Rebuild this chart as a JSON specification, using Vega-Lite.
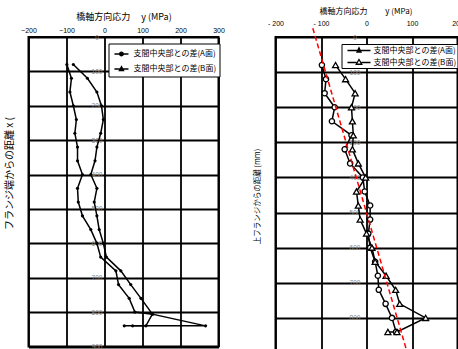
{
  "$schema": "https://vega.github.io/schema/vega-lite/v6.json",
  "background": "white",
  "padding": {"left": 3.5, "top": 6, "right": 0, "bottom": 0},
  "spacing": 57,
  "bounds": "flush",
  "resolve": {"scale": {"shape": "independent", "fill": "independent", "stroke": "independent"}, "legend": {"shape": "independent", "fill": "independent", "stroke": "independent"}},
  "config": {
    "font": "Liberation Sans",
    "view": {"stroke": "black", "strokeWidth": 2},
    "axis": {
      "domain": false, "ticks": false, "grid": true, "gridColor": "black", "gridOpacity": 1, "gridWidth": 1.8,
      "labelFont": "Liberation Sans", "labelColor": "black", "labelFlush": false, "labelOverlap": false,
      "titleFont": "Noto Sans CJK JP", "titleColor": "black", "titleFontWeight": "normal"
    },
    "legend": {"labelFont": "Noto Sans CJK JP", "labelColor": "black"}
  },
  "datasets": {
    "left": [
      {"s":"A","i":1,"d":80,"v":-99},{"s":"A","i":2,"d":120,"v":-87},{"s":"A","i":3,"d":160,"v":-91},{"s":"A","i":4,"d":200,"v":-82},
      {"s":"A","i":5,"d":240,"v":-74},{"s":"A","i":6,"d":280,"v":-78},{"s":"A","i":7,"d":320,"v":-71},{"s":"A","i":8,"d":360,"v":-71},
      {"s":"A","i":9,"d":400,"v":-58},{"s":"A","i":10,"d":440,"v":-71},{"s":"A","i":11,"d":480,"v":-69},{"s":"A","i":12,"d":520,"v":-58},
      {"s":"A","i":13,"d":560,"v":-36},{"s":"A","i":14,"d":600,"v":-20},{"s":"A","i":15,"d":640,"v":-10},{"s":"A","i":16,"d":680,"v":30},
      {"s":"A","i":17,"d":720,"v":37},{"s":"A","i":18,"d":760,"v":65},{"s":"A","i":19,"d":800,"v":80},{"s":"A","i":20,"d":806,"v":126},
      {"s":"A","i":21,"d":840,"v":109},{"s":"A","i":22,"d":840,"v":74},
      {"s":"B","i":1,"d":80,"v":-82},{"s":"B","i":2,"d":120,"v":-45},{"s":"B","i":3,"d":160,"v":-20},{"s":"B","i":4,"d":200,"v":-8},
      {"s":"B","i":5,"d":240,"v":-3},{"s":"B","i":6,"d":280,"v":-10},{"s":"B","i":7,"d":320,"v":-20},{"s":"B","i":8,"d":360,"v":-25},
      {"s":"B","i":9,"d":400,"v":-36},{"s":"B","i":10,"d":440,"v":-20},{"s":"B","i":11,"d":480,"v":-27},{"s":"B","i":12,"d":520,"v":-20},
      {"s":"B","i":13,"d":560,"v":-14},{"s":"B","i":14,"d":600,"v":-3},{"s":"B","i":15,"d":640,"v":5},{"s":"B","i":16,"d":680,"v":43},
      {"s":"B","i":17,"d":720,"v":69},{"s":"B","i":18,"d":760,"v":96},{"s":"B","i":19,"d":806,"v":126},{"s":"B","i":20,"d":840,"v":266},
      {"s":"B","i":21,"d":840,"v":52}
    ],
    "right": [
      {"s":"A","i":1,"d":80,"v":-98},{"s":"A","i":2,"d":120,"v":-89},{"s":"A","i":3,"d":160,"v":-92},{"s":"A","i":4,"d":200,"v":-70},
      {"s":"A","i":5,"d":240,"v":-76},{"s":"A","i":6,"d":280,"v":-33},{"s":"A","i":7,"d":320,"v":-48},{"s":"A","i":8,"d":360,"v":-36},
      {"s":"A","i":9,"d":400,"v":-8},{"s":"A","i":10,"d":440,"v":-4},{"s":"A","i":11,"d":480,"v":8},{"s":"A","i":12,"d":520,"v":8},
      {"s":"A","i":13,"d":560,"v":4},{"s":"A","i":14,"d":600,"v":8},{"s":"A","i":15,"d":640,"v":19},{"s":"A","i":16,"d":680,"v":25},
      {"s":"A","i":17,"d":720,"v":27},{"s":"A","i":18,"d":760,"v":42},{"s":"A","i":19,"d":800,"v":56},{"s":"A","i":20,"d":840,"v":65},
      {"s":"B","i":1,"d":80,"v":-68},{"s":"B","i":2,"d":120,"v":-46},{"s":"B","i":3,"d":160,"v":-25},{"s":"B","i":4,"d":200,"v":-33},
      {"s":"B","i":5,"d":240,"v":-31},{"s":"B","i":6,"d":280,"v":-29},{"s":"B","i":7,"d":320,"v":-31},{"s":"B","i":8,"d":360,"v":-18},
      {"s":"B","i":9,"d":400,"v":-2},{"s":"B","i":10,"d":440,"v":-22},{"s":"B","i":11,"d":480,"v":-18},{"s":"B","i":12,"d":520,"v":-14},
      {"s":"B","i":13,"d":560,"v":0},{"s":"B","i":14,"d":600,"v":12},{"s":"B","i":15,"d":640,"v":19},{"s":"B","i":16,"d":680,"v":43},
      {"s":"B","i":17,"d":720,"v":64},{"s":"B","i":18,"d":760,"v":73},{"s":"B","i":19,"d":800,"v":130},{"s":"B","i":20,"d":840,"v":67},
      {"s":"B","i":21,"d":840,"v":47}
    ],
    "red": [{"d":-25,"v":-118},{"d":910,"v":92}],
    "keys": [{"s":"A","v":0,"d":0},{"s":"B","v":0,"d":0}]
  },
  "hconcat": [
    {
      "width": 190,
      "height": 309.5,
      "encoding": {
        "x": {"field": "v", "type": "quantitative", "scale": {"domain": [-200, 300], "nice": false, "zero": false},
          "axis": {"orient": "top", "values": [-200,-100,0,100,200,300], "labelFontSize": 7, "labelPadding": 3.5,
            "title": "橋軸方向応力　 y (MPa)", "titleFontSize": 9, "titleX": 95, "titleY": -20.5, "titleBaseline": "middle", "titleAlign": "center"}},
        "y": {"field": "d", "type": "quantitative", "scale": {"domain": [0, 900], "reverse": true, "nice": false, "zero": false},
          "axis": {"values": [0,100,200,300,400,500,600,700,800,900], "labelFontSize": 6.5, "labelColor": "#8a8a8a", "labelPadding": -68, "labelAlign": "center", "labelBaseline": "middle",
            "title": "フランジ端からの距離 x (", "titleFontSize": 10, "titleX": -19, "titleY": 136, "titleAngle": -90, "titleBaseline": "middle", "titleAlign": "center"}}
      },
      "layer": [
        {
          "data": {"name": "left"},
          "mark": {"type": "line", "color": "black", "strokeWidth": 1.5},
          "encoding": {"detail": {"field": "s"}, "order": {"field": "i"}}
        },
        {
          "data": {"name": "left"},
          "mark": {"type": "point", "filled": true, "color": "black", "size": 10, "opacity": 1}
        },
        {
          "data": {"name": "keys"},
          "mark": {"type": "point", "filled": true, "strokeWidth": 1.3, "size": 0},
          "encoding": {
            "shape": {"field": "s", "type": "nominal",
              "scale": {"range": ["M-0.7,0H1.46M0.1,0A0.28,0.28,0,1,1,0.66,0A0.28,0.28,0,1,1,0.1,0Z", "M-0.7,0H1.46M0.38,-0.36L0.7,0.24H0.06Z"]},
              "legend": {"orient": "none", "legendX": 80, "legendY": 6.5, "title": null, "strokeColor": "black", "fillColor": "white",
                "padding": 3, "labelFontSize": 8, "symbolSize": 169, "rowPadding": 3, "labelOffset": 7, "symbolOpacity": 1,
                "symbolStrokeWidth": 1.3,
                "labelExpr": "datum.value === 'A' ? '支間中央部との差(A面)' : '支間中央部との差(B面)'"}},
            "fill": {"field": "s", "type": "nominal", "scale": {"range": ["black", "black"]}},
            "stroke": {"field": "s", "type": "nominal", "scale": {"range": ["black", "black"]}}
          }
        }
      ]
    },
    {
      "width": 182,
      "height": 316,
      "encoding": {
        "x": {"field": "v", "type": "quantitative", "scale": {"domain": [-200, 200], "nice": false, "zero": false},
          "axis": {"orient": "top", "values": [-200,-100,0,100,200], "labelFontSize": 7, "labelPadding": 10.5,
            "labelExpr": "datum.value < 0 ? '- ' + abs(datum.value) : datum.label",
            "title": "橋軸方向応力　　 y (MPa)", "titleFontSize": 8, "titleX": 90, "titleY": -26, "titleBaseline": "middle", "titleAlign": "center"}},
        "y": {"field": "d", "type": "quantitative", "scale": {"domain": [0, 900], "reverse": true, "nice": false, "zero": false},
          "axis": {"values": [0,100,200,300,400,500,600,700,800,900], "labelFontSize": 6.5, "labelColor": "#8a8a8a", "labelPadding": -79, "labelAlign": "center", "labelBaseline": "middle",
            "title": "上フランジからの距離 (mm)", "titleFontSize": 7.5, "titleX": -18, "titleY": 159, "titleAngle": -90, "titleBaseline": "middle", "titleAlign": "center"}}
      },
      "layer": [
        {
          "data": {"name": "right"},
          "mark": {"type": "line", "color": "black", "strokeWidth": 1.5},
          "encoding": {"detail": {"field": "s"}, "order": {"field": "i"}}
        },
        {
          "data": {"name": "right"},
          "transform": [{"filter": "datum.s === 'A'"}],
          "mark": {"type": "point", "shape": "circle", "filled": true, "fill": "white", "stroke": "black", "strokeWidth": 1.3, "size": 28, "opacity": 1}
        },
        {
          "data": {"name": "right"},
          "transform": [{"filter": "datum.s === 'B'"}],
          "mark": {"type": "point", "shape": "triangle-up", "filled": true, "fill": "white", "stroke": "black", "strokeWidth": 1.3, "size": 36, "opacity": 1}
        },
        {
          "data": {"name": "red"},
          "mark": {"type": "line", "color": "red", "strokeWidth": 1.5, "strokeDash": [5, 3]}
        },
        {
          "data": {"name": "keys"},
          "mark": {"type": "point", "filled": true, "strokeWidth": 1.3, "size": 0},
          "encoding": {
            "shape": {"field": "s", "type": "nominal",
              "scale": {"range": ["M-0.1,0H4.5M2.2,-0.55L2.6,0.3H1.8Z", "M-0.1,0H1.7M2.7,0H4.5M2.2,-0.6L2.75,0.35H1.65Z"]},
              "legend": {"orient": "none", "legendX": 66, "legendY": 7, "title": null, "strokeColor": "black", "fillColor": "white",
                "padding": 0.5, "labelFontSize": 8, "symbolSize": 100, "rowPadding": 1, "labelOffset": 19.5, "symbolOpacity": 1,
                "symbolStrokeWidth": 1.3,
                "labelExpr": "datum.value === 'A' ? '支間中央部との差(A面)' : '支間中央部との差(B面)'"}},
            "fill": {"field": "s", "type": "nominal", "scale": {"range": ["black", "white"]}},
            "stroke": {"field": "s", "type": "nominal", "scale": {"range": ["black", "black"]}}
          }
        }
      ]
    }
  ]
}
